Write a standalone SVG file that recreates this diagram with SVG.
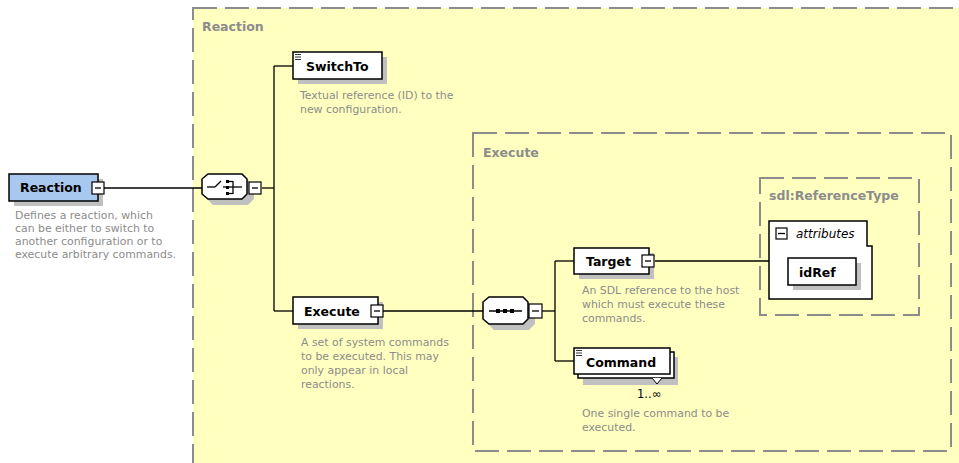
<svg xmlns="http://www.w3.org/2000/svg" width="959" height="463" viewBox="0 0 959 463">
  <style>
    .area { fill: #ffffc0; stroke: #8c8c8c; stroke-width: 2; stroke-dasharray: 24 8; }
    .inner { fill: none; stroke: #8c8c8c; stroke-width: 2; stroke-dasharray: 24 8; }
    .title { font-family: "DejaVu Sans", Verdana, sans-serif; font-weight: bold; font-size: 12.5px; fill: #8c8c8c; }
    .box { fill: #ffffff; stroke: #000000; stroke-width: 1.5; }
    .shadow { fill: #c0c0c0; }
    .label { font-family: "DejaVu Sans", Verdana, sans-serif; font-weight: bold; font-size: 12.5px; fill: #000000; }
    .desc { font-family: "DejaVu Sans", Verdana, sans-serif; font-size: 10.9px; fill: #8c8c8c; }
    .line { stroke: #000000; stroke-width: 1.3; fill: none; }
    .toggle { fill: #ffffff; stroke: #000000; stroke-width: 1.2; }
    .mark { stroke: #000000; stroke-width: 0.8; }
  </style>

  <!-- complex type areas -->
  <rect class="area" x="193" y="8" width="790" height="480"/>
  <text class="title" x="202" y="31">Reaction</text>

  <rect class="inner" x="473" y="133" width="478" height="318"/>
  <text class="title" x="483" y="157">Execute</text>

  <rect class="inner" x="760" y="178" width="159" height="137"/>
  <text class="title" x="769" y="200">sdl:ReferenceType</text>

  <!-- connectors -->
  <g id="connectors">
    <line class="line" x1="104" y1="188" x2="202" y2="188"/>
    <line class="line" x1="262" y1="188" x2="274" y2="188"/>
    <line class="line" x1="274" y1="66" x2="274" y2="311"/>
    <line class="line" x1="274" y1="66" x2="293" y2="66"/>
    <line class="line" x1="274" y1="311" x2="293" y2="311"/>
    <line class="line" x1="383" y1="311" x2="483" y2="311"/>
    <line class="line" x1="542" y1="311" x2="555" y2="311"/>
    <line class="line" x1="555" y1="261" x2="555" y2="361"/>
    <line class="line" x1="555" y1="261" x2="574" y2="261"/>
    <line class="line" x1="555" y1="361" x2="574" y2="361"/>
    <line class="line" x1="655" y1="261" x2="769" y2="261"/>
  </g>

  <!-- root element -->
  <g id="node-reaction">
    <rect class="shadow" x="14" y="179" width="89" height="27"/>
    <rect x="9" y="174" width="89" height="27" fill="#a8c8f0" stroke="#000" stroke-width="1.5"/>
    <text class="label" x="20" y="192">Reaction</text>
    <rect class="toggle" x="92" y="182" width="12" height="12"/>
    <line class="line" x1="95" y1="188" x2="101" y2="188"/>
    <text class="desc" x="15" y="219">Defines a reaction, which</text>
    <text class="desc" x="15" y="232">can be either to switch to</text>
    <text class="desc" x="15" y="245">another configuration or to</text>
    <text class="desc" x="15" y="258">execute arbitrary commands.</text>
  </g>

  <!-- choice compositor -->
  <g id="node-choice">
    <polygon class="shadow" points="213,180 248,180 254,186 254,199 248,205 213,205 207,199 207,186"/>
    <polygon class="box" points="208,174 242,174 247,179 247,194 242,199 208,199 202,194 202,179"/>
    <line class="line" x1="207" y1="187" x2="215" y2="187"/>
    <line class="line" x1="215" y1="187" x2="221" y2="181"/>
    <line class="line" x1="223" y1="187" x2="226" y2="187"/>
    <rect x="226" y="180" width="3" height="3" fill="#000"/>
    <rect x="226" y="186" width="3" height="3" fill="#000"/>
    <rect x="226" y="192" width="3" height="3" fill="#000"/>
    <line class="line" x1="229" y1="181.5" x2="233" y2="181.5"/>
    <line class="line" x1="229" y1="193.5" x2="233" y2="193.5"/>
    <line class="line" x1="233" y1="181" x2="233" y2="194"/>
    <line class="line" x1="229" y1="187" x2="242" y2="187"/>
    <rect class="toggle" x="249" y="182" width="12" height="12"/>
    <line class="line" x1="252" y1="188" x2="258" y2="188"/>
  </g>

  <!-- SwitchTo -->
  <g id="node-switchto">
    <rect class="shadow" x="298" y="57" width="89" height="27"/>
    <rect class="box" x="293" y="52" width="89" height="27"/>
    <line class="mark" x1="295" y1="54.5" x2="301" y2="54.5"/>
    <line class="mark" x1="295" y1="57" x2="301" y2="57"/>
    <line class="mark" x1="295" y1="59.5" x2="301" y2="59.5"/>
    <text class="label" x="306" y="71">SwitchTo</text>
    <text class="desc" x="300" y="99">Textual reference (ID) to the</text>
    <text class="desc" x="300" y="113">new configuration.</text>
  </g>

  <!-- Execute -->
  <g id="node-execute">
    <rect class="shadow" x="298" y="302" width="85" height="27"/>
    <rect class="box" x="293" y="297" width="85" height="27"/>
    <text class="label" x="304" y="316">Execute</text>
    <rect class="toggle" x="371" y="305" width="12" height="12"/>
    <line class="line" x1="374" y1="311" x2="380" y2="311"/>
    <text class="desc" x="301" y="346">A set of system commands</text>
    <text class="desc" x="301" y="360">to be executed. This may</text>
    <text class="desc" x="301" y="374">only appear in local</text>
    <text class="desc" x="301" y="388">reactions.</text>
  </g>

  <!-- sequence compositor -->
  <g id="node-sequence">
    <polygon class="shadow" points="494,303 529,303 535,309 535,324 529,330 494,330 488,324 488,309"/>
    <polygon class="box" points="489,297 523,297 528,302 528,319 523,324 489,324 483,319 483,302"/>
    <line class="line" x1="489" y1="311" x2="522" y2="311"/>
    <rect x="496" y="309" width="4" height="4" fill="#000"/>
    <rect x="503" y="309" width="4" height="4" fill="#000"/>
    <rect x="510" y="309" width="4" height="4" fill="#000"/>
    <rect class="toggle" x="529" y="304" width="13" height="14"/>
    <line class="line" x1="532" y1="311" x2="539" y2="311"/>
  </g>

  <!-- Target -->
  <g id="node-target">
    <rect class="shadow" x="579" y="253" width="75" height="26"/>
    <rect class="box" x="574" y="248" width="75" height="26"/>
    <text class="label" x="586" y="266">Target</text>
    <rect class="toggle" x="642" y="255" width="12" height="12"/>
    <line class="line" x1="645" y1="261" x2="651" y2="261"/>
    <text class="desc" x="582" y="294">An SDL reference to the host</text>
    <text class="desc" x="582" y="308">which must execute these</text>
    <text class="desc" x="582" y="322">commands.</text>
  </g>

  <!-- Command -->
  <g id="node-command">
    <rect class="shadow" x="583" y="357" width="95" height="28"/>
    <rect class="box" x="578" y="352" width="96" height="26"/>
    <rect class="box" x="574" y="348" width="96" height="26"/>
    <line class="mark" x1="576" y1="350.5" x2="582" y2="350.5"/>
    <line class="mark" x1="576" y1="353" x2="582" y2="353"/>
    <line class="mark" x1="576" y1="355.5" x2="582" y2="355.5"/>
    <text class="label" x="586" y="367">Command</text>
    <polyline points="652,378 657,384 662,378" fill="#ffffff" stroke="#000" stroke-width="1"/>
    <text x="637" y="398" font-family="DejaVu Sans, Verdana, sans-serif" font-size="11.5px" fill="#000">1..∞</text>
    <text class="desc" x="582" y="417">One single command to be</text>
    <text class="desc" x="582" y="431">executed.</text>
  </g>

  <!-- attributes of sdl:ReferenceType -->
  <g id="node-attributes">
    <polygon class="box" points="769,221 867,221 867,246 872,246 872,299 769,299"/>
    <rect class="toggle" x="776" y="228" width="11" height="11"/>
    <line class="line" x1="778" y1="233.5" x2="785" y2="233.5"/>
    <text x="796" y="238" font-family="DejaVu Sans, Verdana, sans-serif" font-style="italic" font-size="12px" fill="#000">attributes</text>
  </g>

  <g id="node-idref">
    <rect class="shadow" x="793" y="263" width="68" height="27"/>
    <rect class="box" x="788" y="258" width="68" height="27"/>
    <text class="label" x="799" y="277">idRef</text>
  </g>
</svg>
